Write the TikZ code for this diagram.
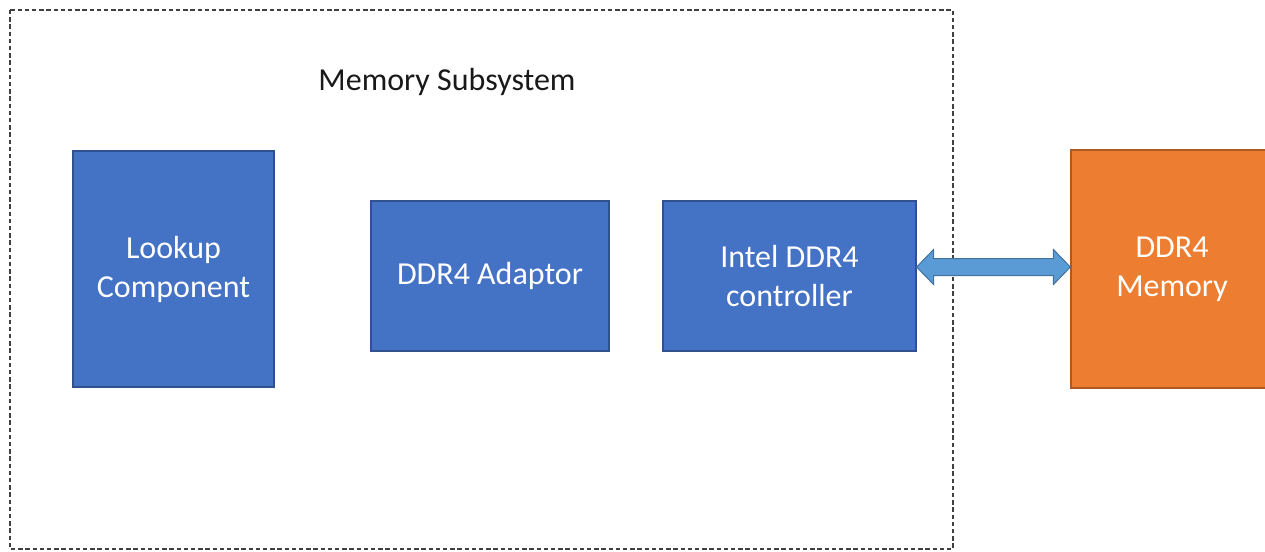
\documentclass[tikz,border=0pt]{standalone}
\usepackage{fontspec}
\setmainfont{Carlito}
\usepackage{tikz}
\usetikzlibrary{calc}
\definecolor{blockblue}{HTML}{4472C4}
\definecolor{blockblueline}{HTML}{2F528F}
\definecolor{blockorange}{HTML}{ED7D31}
\definecolor{blockorangeline}{HTML}{AE5A21}
\definecolor{linkblue}{HTML}{5B9BD5}
\definecolor{linkblueline}{HTML}{41719C}
\definecolor{framegray}{HTML}{404040}

\tikzset{
  unit/.style={draw=blockblueline, fill=blockblue, line width=0.6pt,
    text=white, align=center, inner sep=0pt,
    font=\fontsize{16}{19.5}\selectfont},
  extunit/.style={unit, draw=blockorangeline, fill=blockorange},
  subsys/.style={draw=framegray, line width=1pt, dash pattern=on 2.2pt off 1.4pt},
  biarrow/.style={draw=linkblueline, fill=linkblue, line width=0.5pt, line join=miter}
}

\begin{document}
\begin{tikzpicture}[x=0.5pt, y=-0.5pt]
\useasboundingbox (0,0) rectangle (1265,552);

% subsystem frame
\draw[subsys] (10,10) rectangle (953,549);
\node[font=\fontsize{16}{19.5}\selectfont, text=black!90] (title) at (447,82) {Memory Subsystem};

\node[unit, minimum width=100.5pt, minimum height=118pt] (lookup) at (173.5,269) {Lookup\\Component};
\node[unit, minimum width=119pt, minimum height=75pt] (adaptor) at (490,276) {DDR4 Adaptor};
\node[unit, minimum width=126.5pt, minimum height=75pt] (ctrl) at (789.5,276) {Intel DDR4\\controller};

% external memory
\node[extunit, minimum width=101pt, minimum height=119pt] (mem) at (1172,269) {DDR4\\Memory};

% link between controller and memory
\coordinate (al) at (ctrl.east |- 0,267);
\coordinate (ar) at (mem.west |- 0,267);
\draw[biarrow] (al) -- ($(al)+(17,-17.5)$) -- ($(al)+(17,-8.5)$)
  -- ($(ar)+(-17,-8.5)$) -- ($(ar)+(-17,-17.5)$) -- (ar)
  -- ($(ar)+(-17,17.5)$) -- ($(ar)+(-17,8.5)$)
  -- ($(al)+(17,8.5)$) -- ($(al)+(17,17.5)$) -- cycle;

\end{tikzpicture}
\end{document}
